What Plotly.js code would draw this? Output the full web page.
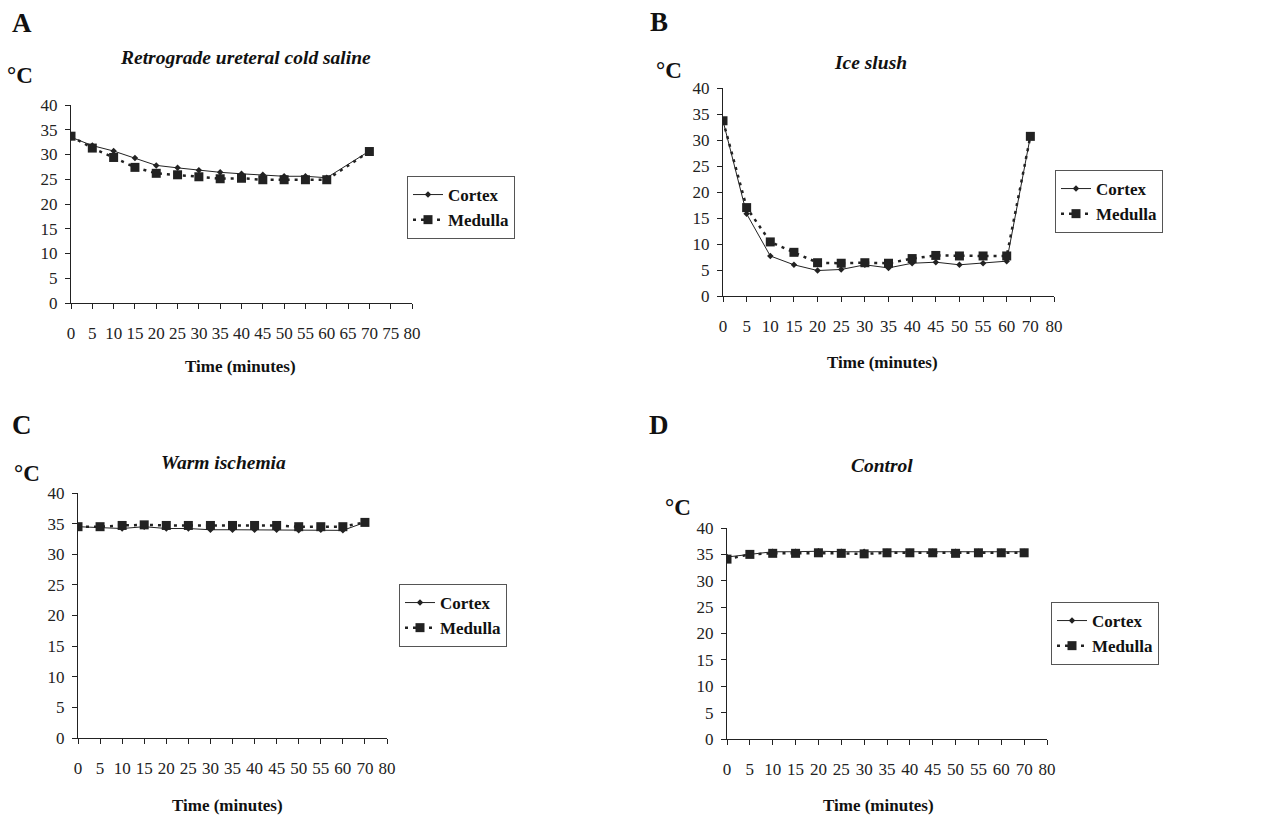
<!DOCTYPE html>
<html>
<head>
<meta charset="utf-8">
<script src="https://cdn.plot.ly/plotly-3.0.1.min.js"></script>
<style>html,body{margin:0;padding:0;background:#fff;}#chart{width:1284px;height:818px;}</style>
</head>
<body>
<div id="chart"></div>
<script>
// ---- data ----
const timesA = [0,5,10,15,20,25,30,35,40,45,50,55,60,70];
const ticksA = [0,5,10,15,20,25,30,35,40,45,50,55,60,65,70,75,80];
const categoriesBCD = ["0","5","10","15","20","25","30","35","40","45","50","55","60","70","80"];
const timesBCD = ["0","5","10","15","20","25","30","35","40","45","50","55","60","70"];

const cortexA  = [33.5,31.8,30.7,29.3,27.8,27.3,26.8,26.4,26.1,25.9,25.6,25.6,25.3,30.7];
const medullaA = [33.7,31.3,29.4,27.4,26.2,25.9,25.5,25.1,25.2,24.9,24.9,24.9,24.9,30.6];

const cortexB  = [33.7,15.8,7.7,6.0,4.9,5.1,6.0,5.4,6.3,6.5,6.0,6.3,6.7,30.7];
const medullaB = [33.7,17.0,10.4,8.4,6.4,6.3,6.4,6.3,7.2,7.8,7.7,7.7,7.7,30.7];

const cortexC  = [34.5,34.4,34.2,34.5,34.2,34.2,34.0,34.0,34.0,34.0,33.9,34.0,33.9,35.2];
const medullaC = [34.5,34.5,34.7,34.8,34.7,34.7,34.7,34.7,34.7,34.7,34.5,34.5,34.5,35.2];

const cortexD  = [34.5,35.0,35.5,35.5,35.6,35.5,35.5,35.5,35.5,35.5,35.5,35.5,35.5,35.5];
const medullaD = [34.1,35.0,35.2,35.2,35.3,35.2,35.1,35.3,35.3,35.3,35.2,35.3,35.3,35.3];

const panelLetters = ["A","B","C","D"];
const panelTitles = ["Retrograde ureteral cold saline","Ice slush","Warm ischemia","Control"];
const seriesNames = ["Cortex","Medulla"];
const yTicks = [0,5,10,15,20,25,30,35,40];
const xTitle = "Time (minutes)";
const yUnit = "°C";

// ---- layout helpers ----
const W = 1284, H = 818;
const px = v => v / W;
const py = v => 1 - v / H;
const FONT = "Liberation Serif, Times New Roman, serif";

const panels = [
  {x:[71,412], y:[105,303], xs:timesA, c:cortexA, m:medullaA, cat:false,
   leg:[407,176], letter:[22,23], title:[245,57], unit:[20,76], xt:[240,367]},
  {x:[723,1054], y:[88,296], xs:timesBCD, c:cortexB, m:medullaB, cat:true,
   leg:[1055,170], letter:[659,22], title:[870,63], unit:[669,70], xt:[882,362]},
  {x:[78,387], y:[493,738], xs:timesBCD, c:cortexC, m:medullaC, cat:true,
   leg:[399,584], letter:[22,425], title:[223,462], unit:[27,474], xt:[227,805]},
  {x:[727,1047], y:[528,739], xs:timesBCD, c:cortexD, m:medullaD, cat:true,
   leg:[1051,602], letter:[659,425], title:[882,465], unit:[678,507], xt:[878,805]}
];

const data = [];
const layout = {
  width: W, height: H,
  margin: {l:0, r:0, t:0, b:0},
  paper_bgcolor: "#fff", plot_bgcolor: "#fff",
  font: {family: FONT, color: "#111", size: 17},
  annotations: []
};

panels.forEach((p, i) => {
  const n = i === 0 ? "" : String(i + 1);
  const legName = "legend" + n;
  data.push({
    x: p.xs, y: p.c, name: seriesNames[0], type: "scatter", mode: "lines+markers",
    xaxis: "x" + n, yaxis: "y" + n, legend: legName,
    line: {color: "#222", width: 1},
    marker: {symbol: "diamond", size: 5, color: "#222"}
  });
  data.push({
    x: p.xs, y: p.m, name: seriesNames[1], type: "scatter", mode: "lines+markers",
    xaxis: "x" + n, yaxis: "y" + n, legend: legName,
    line: {color: "#222", width: 2.5, dash: "3px,5px"},
    marker: {symbol: "square", size: 9, color: "#222"}
  });

  const xa = {
    domain: [px(p.x[0]), px(p.x[1])],
    anchor: "y" + n,
    showgrid: false, zeroline: false,
    showline: true, linecolor: "#222", linewidth: 1,
    ticks: "outside", ticklen: 5, tickcolor: "#222",
    ticklabelstandoff: 10,
    tickfont: {family: FONT, size: 17, color: "#222"},
    fixedrange: true
  };
  if (p.cat) {
    xa.type = "category";
    xa.categoryorder = "array";
    xa.categoryarray = categoriesBCD;
    xa.range = [0, categoriesBCD.length - 1];
  } else {
    xa.type = "linear";
    xa.range = [0, 80];
    xa.tickvals = ticksA;
  }
  layout["xaxis" + n] = xa;
  layout["yaxis" + n] = {
    domain: [py(p.y[1]), py(p.y[0])],
    anchor: "x" + n,
    range: [0, 40], tickvals: yTicks,
    showgrid: false, zeroline: false,
    showline: true, linecolor: "#222", linewidth: 1,
    ticks: "outside", ticklen: 5, tickcolor: "#222",
    ticklabelstandoff: 4,
    tickfont: {family: FONT, size: 17, color: "#222"},
    fixedrange: true
  };
  layout[legName] = {
    x: px(p.leg[0]), y: py(p.leg[1]), xanchor: "left", yanchor: "top",
    bgcolor: "#fff", bordercolor: "#555", borderwidth: 1,
    font: {family: FONT, size: 17, color: "#111", weight: "bold"},
    itemwidth: 30, tracegroupgap: 0
  };
  const ann = (txt, pos, size) => ({
    text: txt, xref: "paper", yref: "paper", x: px(pos[0]), y: py(pos[1]),
    xanchor: "center", yanchor: "middle", showarrow: false,
    font: {family: FONT, size: size, color: "#111", weight: "bold"}
  });
  layout.annotations.push(ann("<b>" + panelLetters[i] + "</b>", p.letter, 27));
  layout.annotations.push(ann("<b><i>" + panelTitles[i] + "</i></b>", p.title, 19.5));
  layout.annotations.push(ann("<b>" + yUnit + "</b>", p.unit, 23));
  layout.annotations.push(ann("<b>" + xTitle + "</b>", p.xt, 17));
});

Plotly.newPlot("chart", data, layout, {staticPlot: true, displayModeBar: false});
</script>
</body>
</html>
